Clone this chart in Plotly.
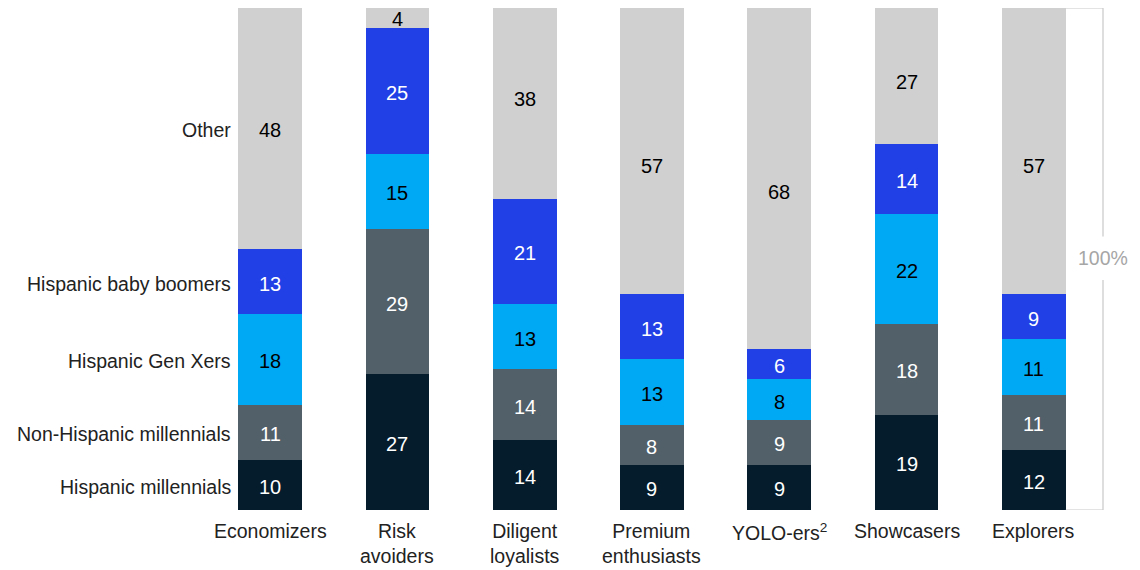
import plotly.graph_objects as go

categories = ["Economizers", "Risk<br>avoiders", "Diligent<br>loyalists", "Premium<br>enthusiasts",
              "YOLO-ers<sup>2</sup>", "Showcasers", "Explorers"]
series_names = ["Hispanic millennials", "Non-Hispanic millennials", "Hispanic Gen Xers",
                "Hispanic baby boomers", "Other"]
hisp_millennials = [10, 27, 14, 9, 9, 19, 12]
nonhisp_millennials = [11, 29, 14, 8, 9, 18, 11]
hisp_genx = [18, 15, 13, 13, 8, 22, 11]
hisp_boomers = [13, 25, 21, 13, 6, 14, 9]
other = [48, 4, 38, 57, 68, 27, 57]

series_values = [hisp_millennials, nonhisp_millennials, hisp_genx, hisp_boomers, other]

# styling
colors = ["#051c2c", "#52606a", "#00a9f4", "#2140e6", "#d0d0d0"]
text_colors = ["white", "white", "black", "white", "black"]
other_label_nudge_px = [0, 1, 6, -13, -11, -4, -13]  # style: hand-placed "Other" labels
FONT = "Liberation Sans, Arial, sans-serif"
x = list(range(len(categories)))

fig = go.Figure()
for name, vals, c in zip(series_names, series_values, colors):
    fig.add_trace(go.Bar(
        x=x, y=vals, name=name, marker=dict(color=c, line=dict(width=0)),
        width=0.5, hoverinfo="skip", showlegend=False,
    ))

# value labels at segment centers
base = [0] * len(x)
for si, (vals, tc) in enumerate(zip(series_values, text_colors)):
    for xi, v in enumerate(vals):
        mid = base[xi] + v / 2
        shift = -2 + (other_label_nudge_px[xi] if si == len(series_values) - 1 else 0)
        fig.add_annotation(x=xi, y=mid, xref="x", yref="y", text=str(v), showarrow=False,
                           xanchor="center", yanchor="middle", yshift=shift,
                           font=dict(size=20, color=tc, family=FONT))
        base[xi] += v

# left series labels at the centers of the first bar's segments
cum = 0
for name, vals in zip(series_names, series_values):
    mid = cum + vals[0] / 2
    cum += vals[0]
    fig.add_annotation(x=-0.29, y=mid, xref="x", yref="y", text=name, showarrow=False,
                       xanchor="right", yanchor="middle", yshift=-2,
                       font=dict(size=19.5, color="#222222", family=FONT))

# category labels below bars
for xi, cat in zip(x, categories):
    fig.add_annotation(x=xi, y=0, xref="x", yref="y", text=cat, showarrow=False,
                       xanchor="center", yanchor="top", yshift=-8, align="center",
                       font=dict(size=19.5, color="#222222", family=FONT))

# 100% bracket
bx = 6.542
lc = "#c8c8c8"
fig.add_shape(type="line", xref="x", yref="y", x0=6.25, x1=bx, y0=100, y1=100, line=dict(color=lc, width=1.2))
fig.add_shape(type="line", xref="x", yref="y", x0=6.25, x1=bx, y0=0, y1=0, line=dict(color=lc, width=1.2))
fig.add_shape(type="line", xref="x", yref="y", x0=bx, x1=bx, y0=100, y1=54.5, line=dict(color=lc, width=1.2))
fig.add_shape(type="line", xref="x", yref="y", x0=bx, x1=bx, y0=45.8, y1=0, line=dict(color=lc, width=1.2))
fig.add_annotation(x=bx, y=50.2, xref="x", yref="y", text="100%", showarrow=False,
                   xanchor="center", yanchor="middle",
                   font=dict(size=19.5, color="#a6a6a6", family=FONT))

fig.update_layout(
    width=1140, height=570, barmode="stack", bargap=0.5,
    margin=dict(l=0, r=0, t=8, b=60),
    plot_bgcolor="white", paper_bgcolor="white",
    xaxis=dict(range=[-2.1205, 6.8326], showgrid=False, zeroline=False, showline=False,
               showticklabels=False, ticks="", fixedrange=True),
    yaxis=dict(range=[0, 100], showgrid=False, zeroline=False, showline=False,
               showticklabels=False, fixedrange=True),
)

fig.write_html("out.html")
